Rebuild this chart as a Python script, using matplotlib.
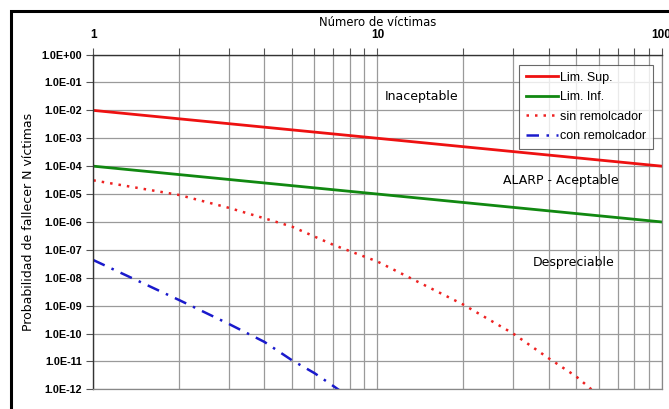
import matplotlib
matplotlib.use("Agg")
import matplotlib.pyplot as plt
import matplotlib.patches as patches
from matplotlib.ticker import FixedLocator, LogLocator, NullFormatter

# Data
victims_lim = [1, 100]
lim_sup = [1e-2, 1e-4]
lim_inf = [1e-4, 1e-6]

victims_sin = [1, 2, 3, 4, 5, 7, 10, 20, 30, 40, 50, 60]
sin_remolcador = [3.1e-5, 9.3e-6, 3.2e-6, 1.35e-6, 6.8e-7, 1.5e-7, 3.8e-8,
                  1.1e-9, 1.0e-10, 1.3e-11, 2.9e-12, 6e-13]

victims_con = [1, 2, 3, 4, 5, 6, 7, 8]
con_remolcador = [4.3e-8, 1.6e-9, 2.2e-10, 5.0e-11, 1.1e-11, 3.8e-12, 1.3e-12, 5e-13]

ytick_vals = [10.0 ** (-k) for k in range(0, 13)]
ytick_labels = ["1.0E+00"] + ["1.0E-%02d" % k for k in range(1, 13)]
xtick_vals = [1, 10, 100]
xtick_labels = ["1", "10", "100"]

region_labels = ["Inaceptable", "ALARP - Aceptable", "Despreciable"]

fig = plt.figure(figsize=(6.69, 4.09), dpi=100)
ax = fig.add_axes([0.1395, 0.0482, 0.8495, 0.8183])

ax.set_xscale("log")
ax.set_yscale("log")
ax.set_xlim(1, 100)
ax.set_ylim(1e-12, 1)

grid_c = "#9a9a9a"
ax.xaxis.set_major_locator(FixedLocator(xtick_vals))
ax.xaxis.set_minor_locator(LogLocator(base=10, subs=range(2, 10)))
ax.xaxis.set_minor_formatter(NullFormatter())
ax.set_xticks(xtick_vals)
ax.set_xticklabels(xtick_labels, fontfamily="Liberation Sans", fontweight="bold", fontsize=8.5)
ax.xaxis.tick_top()
ax.xaxis.set_label_position("top")
ax.tick_params(axis="x", which="both", direction="out", length=5, width=0.8, color="#555555", pad=5)

ax.yaxis.set_major_locator(FixedLocator(ytick_vals))
ax.yaxis.set_minor_locator(FixedLocator([]))
ax.set_yticks(ytick_vals)
ax.set_yticklabels(ytick_labels, fontfamily="Liberation Sans", fontweight="bold", fontsize=7.8)
ax.tick_params(axis="y", which="both", direction="out", length=5, width=0.8, color="#555555", pad=3)

ax.grid(True, which="major", axis="both", color=grid_c, lw=0.9)
ax.grid(True, which="minor", axis="x", color=grid_c, lw=0.9)
ax.set_axisbelow(True)

for s in ["top", "left"]:
    ax.spines[s].set_color("#333333")
    ax.spines[s].set_linewidth(1.0)
for s in ["bottom", "right"]:
    ax.spines[s].set_color("#888888")
    ax.spines[s].set_linewidth(0.9)

ax.plot(victims_lim, lim_sup, color="#ee1111", lw=2.0, label="Lim. Sup.")
ax.plot(victims_lim, lim_inf, color="#118811", lw=2.0, label="Lim. Inf.")
ax.plot(victims_sin, sin_remolcador, color="#ee2222", lw=1.8,
        linestyle=(0, (1, 2.4)), label="sin remolcador")
ax.plot(victims_con, con_remolcador, color="#1a1acc", lw=1.8,
        linestyle=(0, (5, 3, 1, 3)), label="con remolcador")

ax.set_xlabel("Número de víctimas", fontfamily="DejaVu Sans", fontsize=8.4,
              labelpad=2)
ax.set_ylabel("Probabilidad de fallecer N víctimas", fontfamily="DejaVu Sans", fontsize=9,
              labelpad=5)

ax.text(10 ** 1.154, 10 ** -1.52, region_labels[0], fontfamily="DejaVu Sans", fontsize=9, ha="center", va="center")
ax.text(10 ** 1.644, 10 ** -4.5, region_labels[1], fontfamily="DejaVu Sans", fontsize=9, ha="center", va="center")
ax.text(10 ** 1.689, 10 ** -7.47, region_labels[2], fontfamily="DejaVu Sans", fontsize=9, ha="center", va="center")

leg = ax.legend(loc="upper right", bbox_to_anchor=(0.985, 0.97),
                prop={"family": "Liberation Sans", "size": 9},
                frameon=True, fancybox=False, edgecolor="#444444",
                handlelength=2.6, handletextpad=0.15, borderpad=0.55,
                labelspacing=0.6, borderaxespad=0)
leg.get_frame().set_linewidth(0.8)

# Outer black frame
rect = patches.Rectangle((11 / 669, -0.2), 1.2, 1.2 - 11 / 409,
                         transform=fig.transFigure, fill=False,
                         edgecolor="black", lw=2.2, clip_on=False)
fig.patches.append(rect)

fig.savefig("out.png", dpi=100)
